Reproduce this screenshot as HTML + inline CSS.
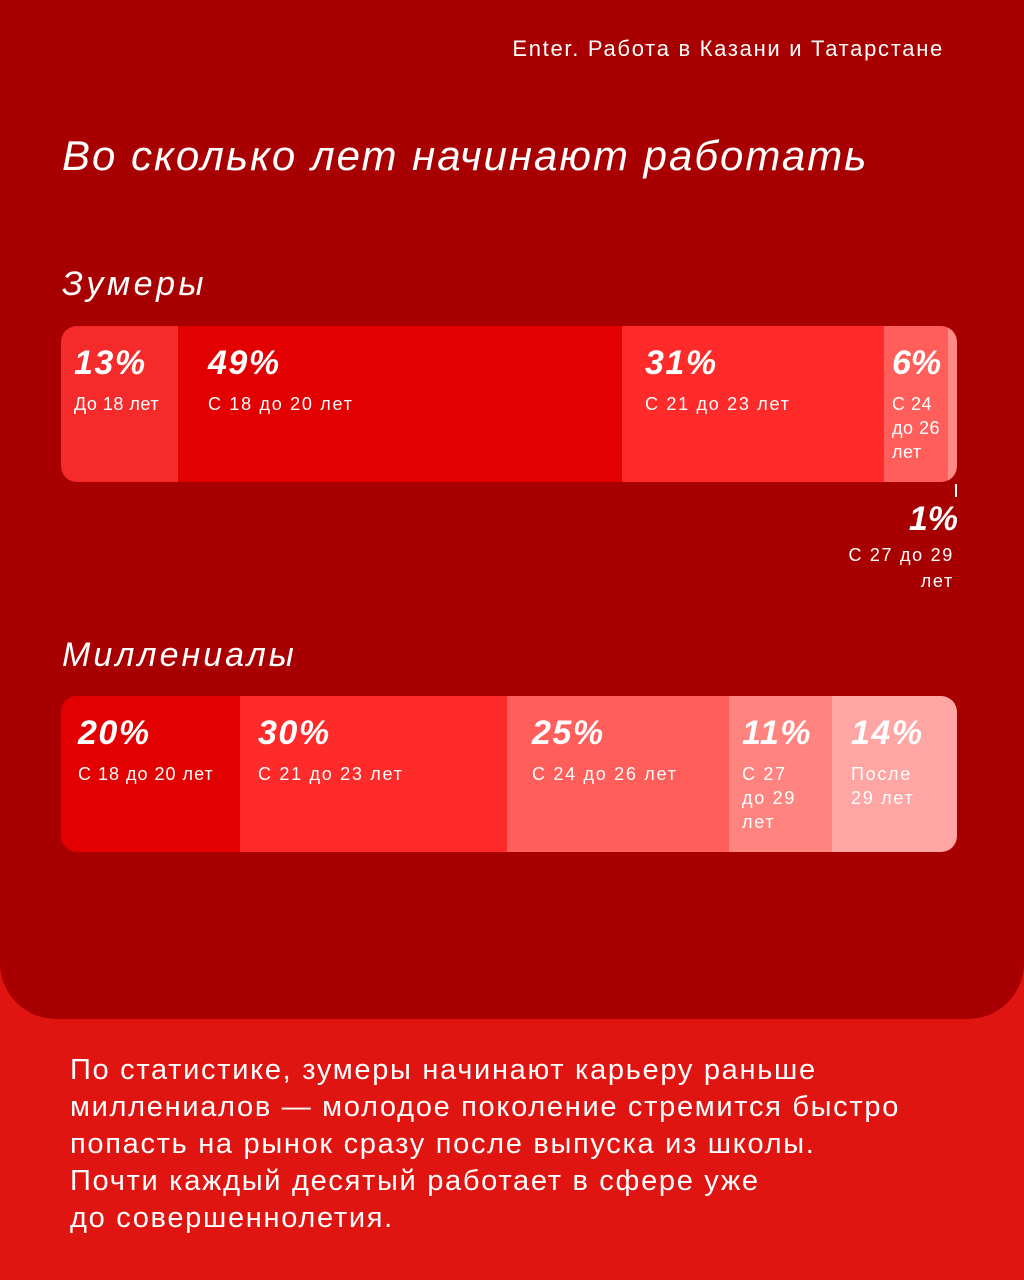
<!DOCTYPE html>
<html><head><meta charset="utf-8"><style>
*{margin:0;padding:0;box-sizing:border-box}
body{width:1024px;height:1280px;background:#E01410;position:relative;overflow:hidden;font-family:"Liberation Sans","DejaVu Sans",sans-serif;color:#fff}
.panel{position:absolute;left:0;top:0;width:1024px;height:1019px;background:#A80000;border-radius:0 0 56px 56px}
.t{position:absolute;white-space:nowrap}
.bar{position:absolute;left:61px;width:896px;height:156px;border-radius:16px;overflow:hidden;display:flex}
.seg{height:100%;position:relative}
.p{position:absolute;top:18px;font-size:34px;font-weight:bold;font-style:italic;letter-spacing:1.5px}
.l{position:absolute;top:66px;font-size:18px;line-height:24px;letter-spacing:1.7px}
</style></head><body>
<div class="panel"></div>
<div class="t" style="right:80px;top:36px;font-size:22px;letter-spacing:1.7px">Enter. Работа в Казани и Татарстане</div>
<div class="t" style="left:62px;top:132px;font-size:42px;font-style:italic;letter-spacing:2px">Во сколько лет начинают работать</div>
<div class="t" style="left:62px;top:265px;font-size:34px;font-style:italic;letter-spacing:3.5px">Зумеры</div>
<div class="bar" style="top:326px">
 <div class="seg" style="width:117px;background:#F52B2B"><div class="p" style="left:13px">13%</div><div class="l" style="left:13px;letter-spacing:0.5px">До 18 лет</div></div>
 <div class="seg" style="width:444px;background:#E20000"><div class="p" style="left:30px">49%</div><div class="l" style="left:30px">С 18 до 20 лет</div></div>
 <div class="seg" style="width:262px;background:#FF2A2A"><div class="p" style="left:23px">31%</div><div class="l" style="left:23px">С 21 до 23 лет</div></div>
 <div class="seg" style="width:64px;background:#FF5E5A"><div class="p" style="left:8px;letter-spacing:0">6%</div><div class="l" style="left:8px;letter-spacing:0.5px">С 24<br>до 26<br>лет</div></div>
 <div class="seg" style="width:9px;background:#FF8A86"></div>
</div>
<div style="position:absolute;left:955px;top:484px;width:2px;height:13px;background:#fff"></div>
<div class="t" style="right:66px;top:500px;font-size:34px;font-weight:bold;font-style:italic">1%</div>
<div class="t" style="right:70px;top:542px;font-size:18px;line-height:26px;text-align:right;letter-spacing:1.7px">С 27 до 29<br>лет</div>
<div class="t" style="left:62px;top:636px;font-size:34px;font-style:italic;letter-spacing:3px">Миллениалы</div>
<div class="bar" style="top:696px">
 <div class="seg" style="width:179px;background:#E20000"><div class="p" style="left:17px">20%</div><div class="l" style="left:17px;letter-spacing:1px">С 18 до 20 лет</div></div>
 <div class="seg" style="width:267px;background:#FF2A2A"><div class="p" style="left:18px">30%</div><div class="l" style="left:18px">С 21 до 23 лет</div></div>
 <div class="seg" style="width:222px;background:#FF5E5A"><div class="p" style="left:25px">25%</div><div class="l" style="left:25px">С 24 до 26 лет</div></div>
 <div class="seg" style="width:103px;background:#FF8480"><div class="p" style="left:13px">11%</div><div class="l" style="left:13px">С 27<br>до 29<br>лет</div></div>
 <div class="seg" style="width:125px;background:#FFA5A3"><div class="p" style="left:19px">14%</div><div class="l" style="left:19px">После<br>29 лет</div></div>
</div>
<div class="t" style="left:70px;top:1052px;font-size:29px;line-height:37px;letter-spacing:1.7px">По статистике, зумеры начинают карьеру раньше<br>миллениалов — молодое поколение стремится быстро<br>попасть на рынок сразу после выпуска из школы.<br>Почти каждый десятый работает в сфере уже<br>до совершеннолетия.</div>
</body></html>
